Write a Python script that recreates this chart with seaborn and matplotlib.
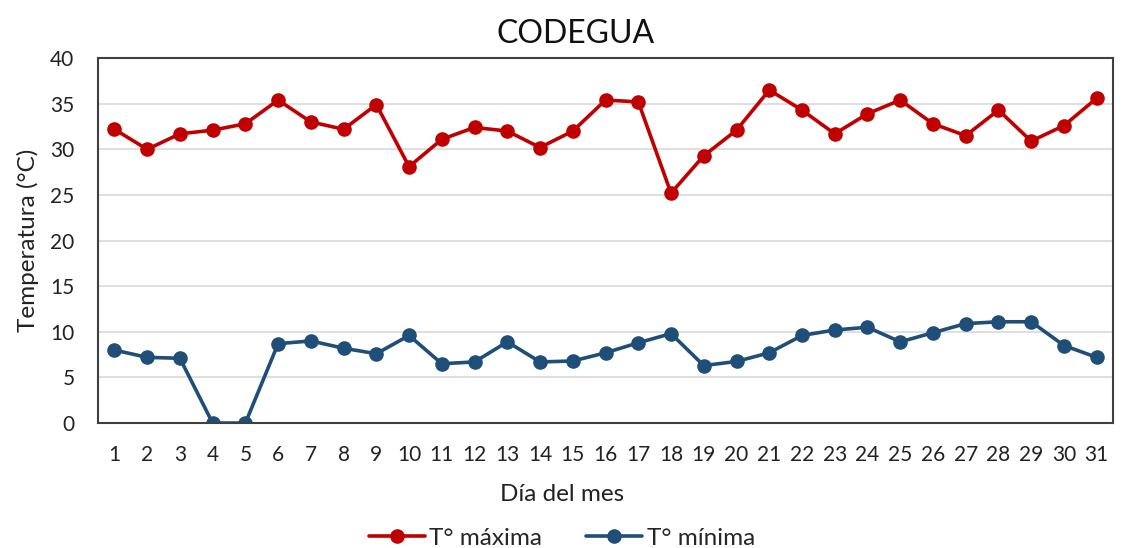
import matplotlib
matplotlib.use('Agg')
import matplotlib.pyplot as plt
import pandas as pd
import seaborn as sns

# Data
dias = list(range(1, 32))
t_max = [32.2, 30.0, 31.7, 32.1, 32.8, 35.4, 33.0, 32.2, 34.9, 28.1,
         31.1, 32.4, 32.0, 30.2, 32.0, 35.4, 35.2, 25.2, 29.3, 32.1,
         36.5, 34.3, 31.7, 33.9, 35.4, 32.8, 31.5, 34.3, 30.9, 32.6, 35.6]
t_min = [8.0, 7.2, 7.1, 0.0, 0.0, 8.7, 9.0, 8.2, 7.6, 9.6,
         6.5, 6.7, 8.9, 6.7, 6.8, 7.7, 8.8, 9.8, 6.3, 6.75,
         7.7, 9.6, 10.2, 10.5, 8.9, 9.9, 10.9, 11.1, 11.1, 8.5, 7.2]
series = ['T° máxima', 'T° mínima']
colores = ['#C00000', '#1F4E79']

df = pd.DataFrame({
    'dia': dias * 2,
    'temp': t_max + t_min,
    'serie': [series[0]] * len(dias) + [series[1]] * len(dias),
})

sns.set_style('white')
plt.rcParams['font.family'] = ['Lato', 'DejaVu Sans']

fig = plt.figure(figsize=(11.36, 5.48), dpi=100)
ax = fig.add_axes([0.0863, 0.228, 0.8935, 0.666])

sns.lineplot(data=df, x='dia', y='temp', hue='serie', hue_order=series,
             palette=colores, marker='o', markersize=10.5, markeredgewidth=0,
             linewidth=2.6, ax=ax)

ax.set_xlim(0.5, 31.5)
ax.set_ylim(0, 40)
ax.set_xticks(dias)
ax.set_xticklabels([str(d) for d in dias])
ax.set_yticks(range(0, 41, 5))
ax.yaxis.grid(True, color='#d9d9d9', linewidth=1.2)
ax.set_axisbelow(True)
ax.tick_params(axis='both', labelsize=15, colors='#222222', length=0)
ax.tick_params(axis='x', pad=16)
ax.tick_params(axis='y', pad=17)

for s in ax.spines.values():
    s.set_color('#404040')
    s.set_linewidth(1.5)

# Title and x label are centred on the whole chart, as in Excel
fig.text(0.507, 0.938, 'CODEGUA', fontsize=23, color='#111111',
         ha='center', va='center')
ax.set_xlabel('Día del mes', fontsize=17.5, color='#222222')
ax.xaxis.set_label_coords(0.457, -0.197)
ax.xaxis.label.set_va('center')
ax.set_ylabel('Temperatura (°C)', fontsize=17.5, labelpad=8, color='#222222')

handles, labels = ax.get_legend_handles_labels()
ax.legend(handles, labels, loc='center', bbox_to_anchor=(0.457, -0.315),
          ncol=2, frameon=False, fontsize=17.5, columnspacing=1.8,
          handlelength=2.3, handletextpad=0.2)

fig.savefig('out.png', dpi=100)
